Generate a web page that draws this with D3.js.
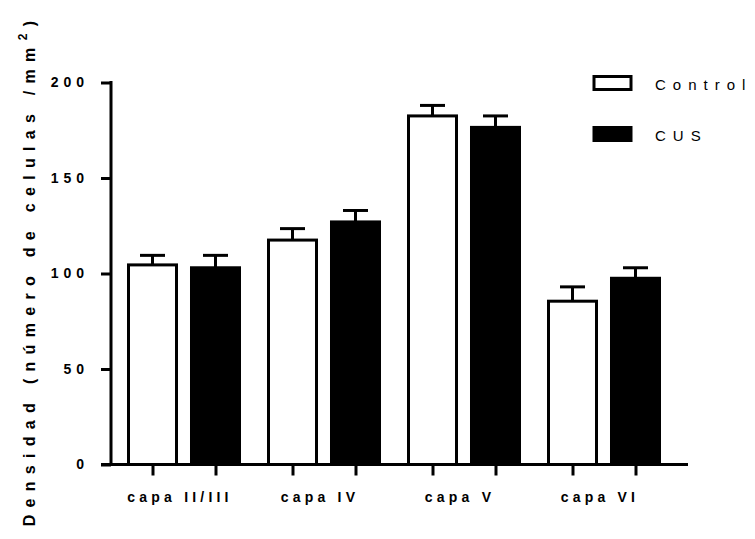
<!DOCTYPE html>
<html>
<head>
<meta charset="utf-8">
<script src="https://cdn.jsdelivr.net/npm/d3@7"></script>
<style>
  body { margin: 0; background: #fff; }
  text { font-family: "Liberation Sans", Arial, sans-serif; }
</style>
</head>
<body>
<div id="chart"></div>
<script>
// data
const capas = ["capa II/III", "capa IV", "capa V", "capa VI"];
const series = ["Control", "CUS"];
const controlVals = [104.5, 117.5, 182.5, 85.5];
const controlErr = [5, 6, 5.5, 7.5];
const cusVals = [103, 127, 176.5, 97.5];
const cusErr = [6.5, 6, 6, 5.5];
const yTicks = [0, 50, 100, 150, 200];

const rows = [];
capas.forEach((c, i) => {
    rows.push({capa: c, serie: "Control", value: controlVals[i], err: controlErr[i]});
    rows.push({capa: c, serie: "CUS", value: cusVals[i], err: cusErr[i]});
});

const width = 755, height = 539;
const svg = d3.select("#chart")
              .append("svg")
              .attr("width", width)
              .attr("height", height);

const y = d3.scaleLinear()
            .domain([0, 200])
            .range([464.5, 82.5]);
const x0 = d3.scaleBand()
             .domain(capas)
             .range([114, 674]);
const x1 = d3.scaleBand()
             .domain(series)
             .range([14.5, 125.5])
             .paddingInner(0.238);
const color = {Control: "#fff", CUS: "#000"};

// bars
const bars = svg.append("g");
bars.selectAll("rect")
    .data(rows)
    .enter()
    .append("rect")
    .attr("x", d => x0(d.capa) + x1(d.serie))
    .attr("y", d => y(d.value))
    .attr("width", x1.bandwidth())
    .attr("height", d => y(0) - y(d.value))
    .attr("fill", d => color[d.serie])
    .attr("stroke", "#000")
    .attr("stroke-width", 3);

// error bars
const errs = svg.append("g")
                .attr("stroke", "#000")
                .attr("stroke-width", 3);
const cx = d => x0(d.capa) + x1(d.serie) + x1.bandwidth() / 2;
errs.selectAll(".vline")
    .data(rows)
    .enter()
    .append("line")
    .attr("x1", cx)
    .attr("x2", cx)
    .attr("y1", d => y(d.value))
    .attr("y2", d => y(d.value + d.err));
errs.selectAll(".cap")
    .data(rows)
    .enter()
    .append("line")
    .attr("x1", d => cx(d) - 12.5)
    .attr("x2", d => cx(d) + 12.5)
    .attr("y1", d => y(d.value + d.err))
    .attr("y2", d => y(d.value + d.err));

// y axis
const yAxis = svg.append("g")
                 .attr("transform", "translate(111,0)")
                 .call(d3.axisLeft(y).tickValues(yTicks).tickSize(10).tickSizeOuter(0));
yAxis.select(".domain").attr("stroke-width", 3).attr("d", "M0," + (y(0) + 1.5) + "V" + (y(200) - 1.5));
yAxis.selectAll(".tick line").attr("stroke-width", 3);
yAxis.selectAll(".tick text")
     .attr("x", -22)
     .style("font-size", "14px")
     .style("font-weight", "bold")
     .style("letter-spacing", "5px")
     .attr("fill", "#000");

// x axis
const xPts = d3.scaleOrdinal()
               .domain(rows.map(d => d.capa + "|" + d.serie))
               .range(rows.map(cx));
const xAxis = svg.append("g")
                 .attr("transform", "translate(0," + y(0) + ")")
                 .call(d3.axisBottom(xPts).tickSize(11).tickFormat(""));
xAxis.select(".domain").remove();
xAxis.append("line")
     .attr("x1", 101).attr("x2", 688)
     .attr("stroke", "#000")
     .attr("stroke-width", 3);
xAxis.selectAll(".tick line").attr("stroke-width", 3);

svg.append("g")
   .selectAll("text")
   .data(capas)
   .enter()
   .append("text")
   .attr("x", d => x0(d) + x0.bandwidth() / 2 - 4)
   .attr("y", 502)
   .attr("text-anchor", "middle")
   .style("font-size", "14px")
   .style("font-weight", "bold")
   .style("letter-spacing", "4.2px")
   .text(d => d);

// y label
const ylab = svg.append("text")
                .attr("transform", "translate(35,270) rotate(-90)")
                .attr("text-anchor", "middle")
                .style("font-size", "16px")
                .style("font-weight", "bold")
                .style("letter-spacing", "7.3px");
ylab.append("tspan").text("Densidad (número de celulas /mm");
ylab.append("tspan").attr("dy", -8).style("font-size", "12px").text("2");
ylab.append("tspan").attr("dy", 8).text(")");

// legend
const legend = svg.append("g")
                  .selectAll("g")
                  .data(series)
                  .enter()
                  .append("g")
                  .attr("transform", (d, i) => "translate(594," + (76.5 + i * 51) + ")");
legend.append("rect")
      .attr("width", 37)
      .attr("height", 13)
      .attr("fill", d => color[d])
      .attr("stroke", "#000")
      .attr("stroke-width", 3);
legend.append("text")
      .attr("x", 61)
      .attr("y", 13)
      .style("font-size", "15px")
      .style("letter-spacing", "7px")
      .text(d => d);
</script>
</body>
</html>
